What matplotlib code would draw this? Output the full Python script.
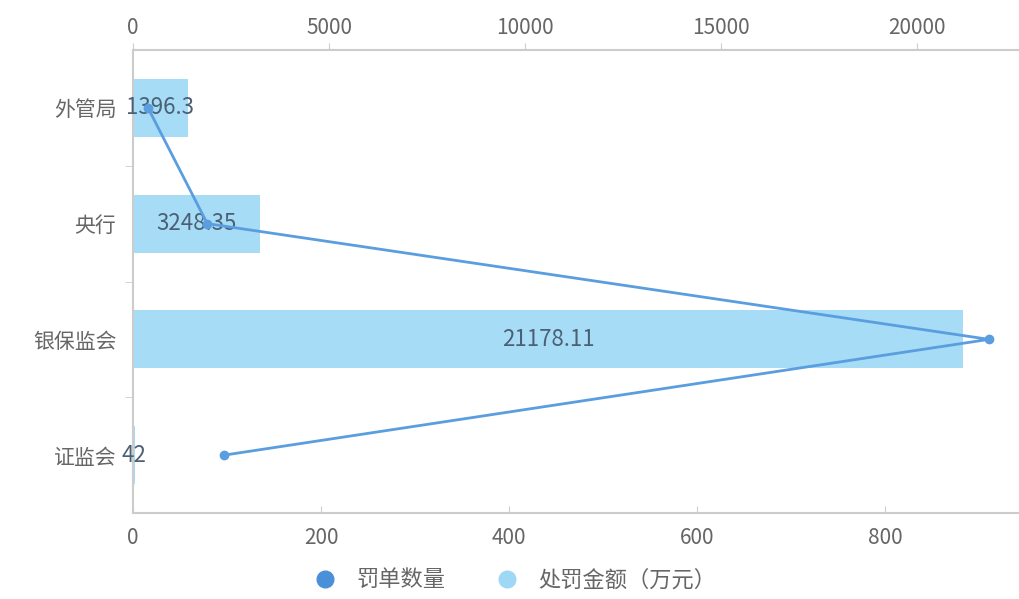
import matplotlib.pyplot as plt
import numpy as np
from matplotlib.lines import Line2D

plt.rcParams['font.family'] = ['Noto Sans CJK SC', 'DejaVu Sans']

categories = ['外管局', '央行', '银保监会', '证监会']
amount = [1396.3, 3248.35, 21178.11, 42]      # 处罚金额（万元）
amount_labels = ['1396.3', '3248.35', '21178.11', '42']
count = [16, 79, 910, 97]                     # 罚单数量

bar_color = '#a6dcf6'
line_color = '#5a9ee0'
axis_color = '#cccccc'
text_color = '#666666'

fig = plt.figure(figsize=(10.19, 5.99), dpi=100)
ax = fig.add_axes([0.1305, 0.1436, 0.8695, 0.7729])

y = np.arange(len(categories))
bars = ax.barh(y, amount, height=0.5, color=bar_color, zorder=1)
ax.bar_label(bars, labels=amount_labels, label_type='center',
             color='#4b6075', fontsize=16, zorder=5)
ax.set_xlim(0, 22600)
ax.set_ylim(3.5, -0.5)

ax.set_yticks(y)
ax.set_yticklabels(categories)
ax.set_yticks(np.arange(0.5, len(categories) - 1, 1), minor=True)
ax.tick_params(axis='y', which='major', length=0, pad=12, labelsize=15, labelcolor=text_color)
ax.tick_params(axis='y', which='minor', length=6, color=axis_color)

ax2 = ax.twiny()
ax2.plot(count, y, color=line_color, lw=2, marker='o', ms=6, zorder=3)
ax2.set_xlim(0, 942)

ax.xaxis.tick_top()
ax.set_xticks([0, 5000, 10000, 15000, 20000])
ax.tick_params(axis='x', length=5, color=axis_color, labelsize=15, labelcolor=text_color, pad=3)

ax2.xaxis.tick_bottom()
ax2.set_xticks([0, 200, 400, 600, 800])
ax2.tick_params(axis='x', direction='in', length=5, color=axis_color,
                labelsize=15, labelcolor=text_color, pad=10)

for a in (ax, ax2):
    for s in a.spines.values():
        s.set_visible(False)
ax.spines['left'].set_visible(True)
ax.spines['top'].set_visible(True)
ax2.spines['bottom'].set_visible(True)
for s in (ax.spines['left'], ax.spines['top'], ax2.spines['bottom']):
    s.set_color(axis_color)
    s.set_linewidth(1.5)

handles = [
    Line2D([], [], ls='none', marker='o', ms=12, color='#4a90d9'),
    Line2D([], [], ls='none', marker='o', ms=12, color='#9fd8f5'),
]
fig.legend(handles, ['罚单数量', '处罚金额（万元）'], loc='center', bbox_to_anchor=(0.5, 0.032),
           ncol=2, frameon=False, fontsize=16, labelcolor=text_color,
           handletextpad=0.4, columnspacing=1.8)

fig.savefig('out.png', dpi=100)
